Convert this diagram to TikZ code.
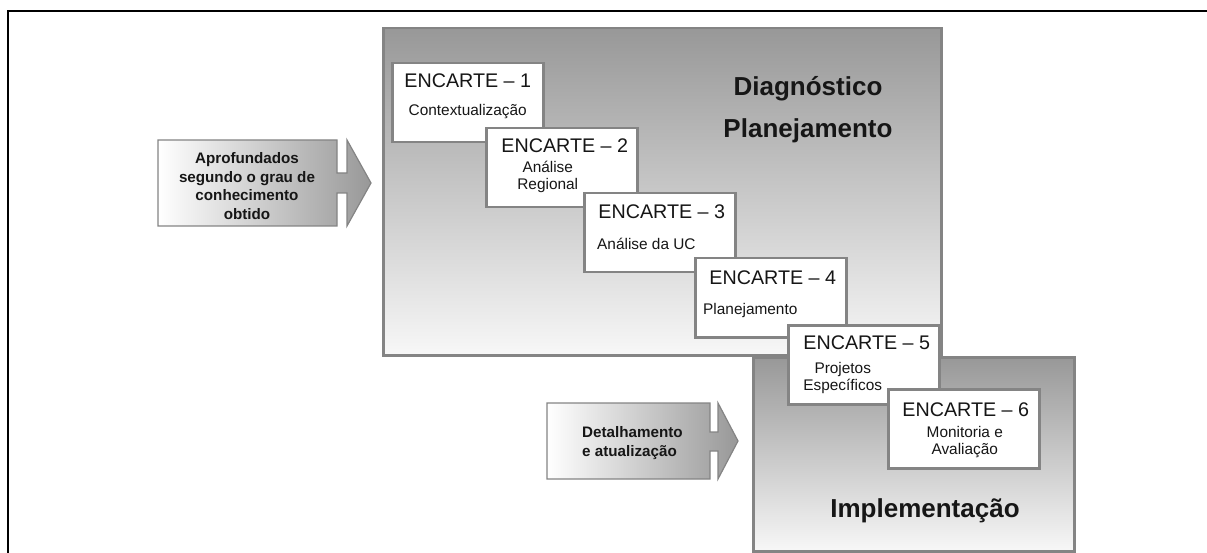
\documentclass[tikz,border=0pt]{standalone}
\usepackage{fontspec}
\setmainfont{Liberation Sans}
\usetikzlibrary{positioning, calc}
\definecolor{cEdge}{RGB}{132,132,132}
\definecolor{cShade}{RGB}{152,152,152}
\definecolor{cText}{RGB}{22,22,22}
\tikzset{
	phase/.style    ={rectangle, draw=cEdge, line width=2.5pt, top color=cShade, bottom color=white!97!black, anchor=north west, inner sep=0pt},
	encarte/.style  ={rectangle, draw=cEdge, line width=2.5pt, fill=white, minimum width=151pt, minimum height=79pt, anchor=north west, inner sep=0pt},
	etitle/.style   ={anchor=base, inner sep=0pt, text=cText, font=\fontsize{19.7}{23}\selectfont},
	esub/.style     ={anchor=base, inner sep=0pt, align=center, text=cText, font=\fontsize{15.4}{17}\selectfont},
	phasename/.style={anchor=base, inner sep=0pt, text=cText, font=\fontsize{26}{30}\selectfont\bfseries},
	% block arrows on the left
	bigarrow/.style ={draw=cEdge, line width=1.2pt, left color=white, right color=cShade},
	arrowtext/.style={inner sep=0pt, text=cText, font=\fontsize{15.2}{18.5}\selectfont\bfseries},
}

\begin{document}
\begin{tikzpicture}[x=1pt, y=-1pt]
	\useasboundingbox (0,0) rectangle (1207,553);
	% frame
	\draw[line width=2pt] (8,553) -- (8,11) -- (1207,11);
	% phases
	\node[phase, minimum width=558pt, minimum height=327pt] (diag) at (382,27) {};
	\node[phase, minimum width=321pt, minimum height=194pt] (impl) at (752,356) {};
	\node[phasename] (diagname) at (808,96) {Diagnóstico};
	\node[phasename] (planname) at (808,138) {Planejamento};
	\node[phasename] (implname) at (925,517) {Implementação};
	% arrow: deepening
	\draw[bigarrow] (158,140) -- (337,140) -- (337,173) -- (347,173) -- (347,140) -- (371,183)
		-- (347,226) -- (347,193) -- (337,193) -- (337,226) -- (158,226) -- cycle;
	\node[arrowtext, align=center] (deep) at (247,186) {Aprofundados\\segundo o grau de\\conhecimento\\obtido};
	% arrow: detailing
	\draw[bigarrow] (547,403) -- (710,403) -- (710,432) -- (718,432) -- (718,403) -- (738,441)
		-- (718,479) -- (718,451) -- (710,451) -- (710,479) -- (547,479) -- cycle;
	\node[arrowtext, align=left, anchor=west] (detail) at (582,443) {Detalhamento\\e atualização};
	% encartes (two-line texts sit on their last baseline)
	\node[encarte] (e1) at (391,62) {};
	\node[etitle] at ($(e1.north)+(0,26)$) {ENCARTE -- 1};
	\node[esub] at ($(e1.north)+(0,54)$) {Contextualização};
	\node[encarte] (e2) at (485,127) {};
	\node[etitle] at ($(e2.north)+(3,26)$) {ENCARTE -- 2};
	\node[esub] at ($(e2.north)+(-14,63)$) {Análise\\Regional};
	\node[encarte] (e3) at (583,192) {};
	\node[etitle] at ($(e3.north)+(2,27)$) {ENCARTE -- 3};
	\node[esub, anchor=base west] at ($(e3.north west)+(14,58)$) {Análise da UC};
	\node[encarte] (e4) at (694,257) {};
	\node[etitle] at ($(e4.north)+(2,28)$) {ENCARTE -- 4};
	\node[esub, anchor=base west] at ($(e4.north west)+(9,57)$) {Planejamento};
	\node[encarte] (e5) at (787,324) {};
	\node[etitle] at ($(e5.north)+(3,25)$) {ENCARTE -- 5};
	\node[esub] at ($(e5.north)+(-21,66)$) {Projetos\\Específicos};
	\node[encarte] (e6) at (887,388) {};
	\node[etitle] at ($(e6.north)+(2,28)$) {ENCARTE -- 6};
	\node[esub] at ($(e6.north)+(1,66)$) {Monitoria e\\Avaliação};
\end{tikzpicture}
\end{document}
